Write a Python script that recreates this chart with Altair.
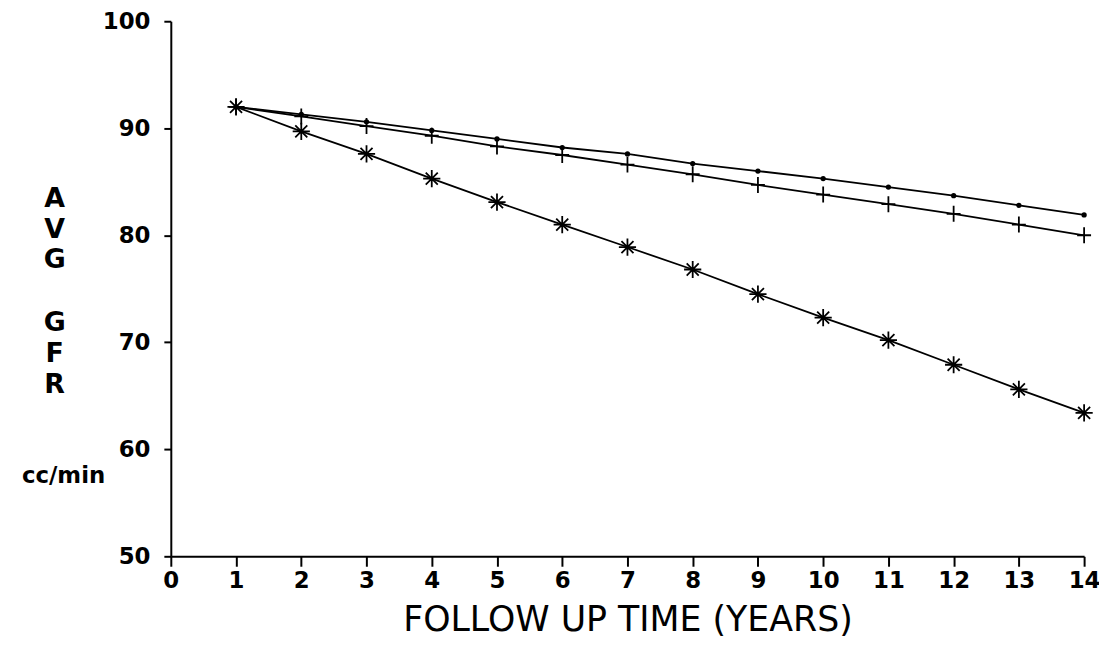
import altair as alt
import pandas as pd

years = list(range(1, 15))
dot_series = [92.0, 91.3, 90.6, 89.8, 89.0, 88.2, 87.6, 86.7, 86.0, 85.3, 84.5, 83.7, 82.8, 81.9]
plus_series = [92.0, 91.1, 90.2, 89.3, 88.3, 87.5, 86.6, 85.7, 84.7, 83.8, 82.9, 82.0, 81.0, 80.0]
star_series = [92.0, 89.7, 87.6, 85.3, 83.1, 81.0, 78.9, 76.8, 74.5, 72.3, 70.2, 67.9, 65.6, 63.4]
x_ticks = list(range(0, 15))
y_ticks = [50, 60, 70, 80, 90, 100]
x_title = "FOLLOW UP TIME (YEARS)"
y_title_top = "A\nV\nG"
y_title_bottom = "G\nF\nR"
unit_label = "cc/min"

df = pd.DataFrame({"year": years, "dot": dot_series, "plus": plus_series, "star": star_series})

FONT = "DejaVu Sans"

x_enc = alt.X(
    "year:Q",
    scale=alt.Scale(domain=[0, 14], nice=False, zero=False),
    axis=alt.Axis(
        values=x_ticks, title=x_title, grid=False,
        domainColor="black", domainWidth=2, tickColor="black", tickWidth=2, tickSize=10,
        labelFont=FONT, labelFontSize=23, labelFontWeight="bold", labelColor="black",
        labelPadding=3, labelFlush=False,
        titleFont=FONT, titleFontSize=35, titleFontWeight="normal", titleColor="black",
        titlePadding=11,
    ),
)


def y_enc(field):
    return alt.Y(
        f"{field}:Q",
        scale=alt.Scale(domain=[50, 100], nice=False, zero=False),
        axis=alt.Axis(
            values=y_ticks, title=None, grid=False,
            domainColor="black", domainWidth=2, tickColor="black", tickWidth=2, tickSize=7,
            labelFont=FONT, labelFontSize=23, labelFontWeight="bold", labelColor="black",
            labelPadding=14,
        ),
    )


base = alt.Chart(df)

STAR = "M-1,0L1,0M0,-1L0,1M-0.7,-0.7L0.7,0.7M-0.7,0.7L0.7,-0.7"
PLUS = "M-1,0L1,0M0,-1.15L0,1.15"

layers = []
for field in ["dot", "plus", "star"]:
    layers.append(base.mark_line(color="black", strokeWidth=1.8).encode(x=x_enc, y=y_enc(field)))

layers.append(base.mark_point(shape="circle", filled=True, color="black", size=28, opacity=1).encode(x=x_enc, y=y_enc("dot")))
layers.append(base.mark_point(shape=PLUS, filled=False, color="black", strokeWidth=1.8, size=196, opacity=1).encode(x=x_enc, y=y_enc("plus")))
layers.append(base.mark_point(shape=STAR, filled=False, color="black", strokeWidth=1.8, size=300, opacity=1).encode(x=x_enc, y=y_enc("star")))

text_style = dict(font=FONT, fontSize=27, fontWeight="bold", color="black", lineBreak="\n", lineHeight=31,
                  align="center", baseline="top")

ytitle_top = alt.Chart(pd.DataFrame({"t": [y_title_top]})).mark_text(**text_style).encode(
    text="t:N", x=alt.value(-117), y=alt.value(166))
ytitle_bottom = alt.Chart(pd.DataFrame({"t": [y_title_bottom]})).mark_text(**text_style).encode(
    text="t:N", x=alt.value(-117), y=alt.value(291))

unit = alt.Chart(pd.DataFrame({"t": [unit_label]})).mark_text(
    font=FONT, fontSize=23, fontWeight="bold", color="black", align="center", baseline="middle",
).encode(text="t:N", x=alt.value(-108), y=alt.value(458))

chart = alt.layer(*layers, ytitle_top, ytitle_bottom, unit).properties(
    width=920, height=539,
    padding={"left": 164, "top": 11, "right": 15, "bottom": 84},
    autosize="none",
    background="white",
).configure_view(stroke=None)

chart.save("out.html", embed_options={"renderer": "svg", "actions": False})
